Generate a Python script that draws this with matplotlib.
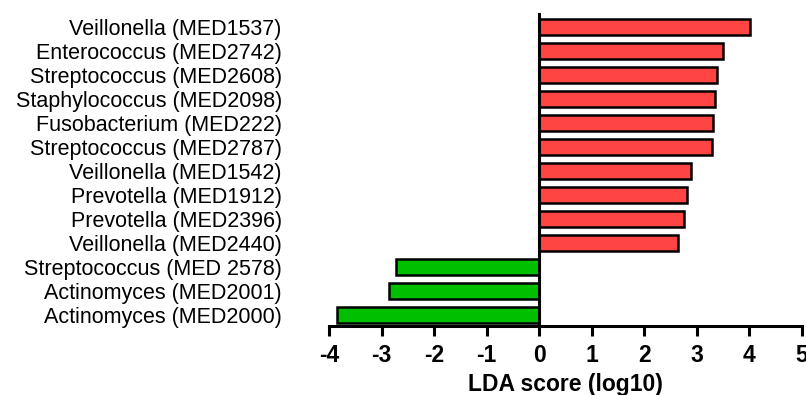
import matplotlib

matplotlib.use("Agg")

import matplotlib.pyplot as plt  # noqa: E402

taxa = [
    "Veillonella (MED1537)",
    "Enterococcus (MED2742)",
    "Streptococcus (MED2608)",
    "Staphylococcus (MED2098)",
    "Fusobacterium (MED222)",
    "Streptococcus (MED2787)",
    "Veillonella (MED1542)",
    "Prevotella (MED1912)",
    "Prevotella (MED2396)",
    "Veillonella (MED2440)",
    "Streptococcus (MED 2578)",
    "Actinomyces (MED2001)",
    "Actinomyces (MED2000)",
]
lda = [4.01, 3.50, 3.38, 3.35, 3.30, 3.28, 2.89, 2.82, 2.76, 2.64, -2.72, -2.85, -3.84]
xticks = [-4, -3, -2, -1, 0, 1, 2, 3, 4, 5]

RED = "#ff4444"
GREEN = "#00bf00"

plt.rcParams["font.family"] = ["Liberation Sans", "DejaVu Sans"]

fig = plt.figure(figsize=(8.06, 3.95), dpi=100)
ax = fig.add_axes([329 / 806, 1 - 326 / 395, (802 - 329) / 806, (326 - 13) / 395])

ypos = list(range(len(taxa)))
colors = [RED if v > 0 else GREEN for v in lda]
ax.barh(ypos, lda, height=0.66, color=colors, edgecolor="black", linewidth=1.8, zorder=2)
ax.axvline(0, color="black", lw=2.2, zorder=3)

ax.set_xlim(-4, 5)
ax.set_ylim(len(taxa) - 1 + 0.46, -0.58)

ax.set_yticks(ypos)
ax.set_yticklabels(taxa, fontsize=15.5)
ax.tick_params(axis="y", length=0, pad=34)

ax.set_xticks(xticks)
ax.set_xticklabels([str(t) for t in xticks], fontsize=16.5, fontweight="bold")
ax.tick_params(axis="x", length=7, width=2.2, pad=6)
ax.set_xlabel("LDA score (log10)", fontsize=16.5, fontweight="bold", labelpad=4)

for side in ("top", "right", "left"):
    ax.spines[side].set_visible(False)
ax.spines["bottom"].set_linewidth(2.2)

fig.savefig("out.png", dpi=100, facecolor="white")
plt.close(fig)
